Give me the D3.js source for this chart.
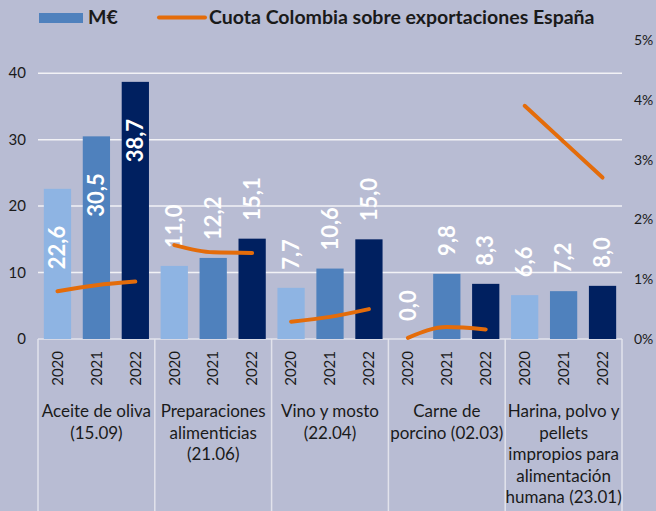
<!DOCTYPE html>
<html>
<head>
<meta charset="utf-8">
<script src="https://cdn.jsdelivr.net/npm/d3@7"></script>
<style>
  html, body { margin: 0; padding: 0; background: #b8bcd3; }
  svg { display: block; font-family: Lato, "Open Sans", sans-serif; }
</style>
</head>
<body>
<div id="chart"></div>
<script>
// Data
const categories = ['Aceite de oliva', 'Preparaciones alimenticias', 'Vino y mosto', 'Carne de porcino', 'Harina'];
const categoryLines = [
  ['Aceite de oliva', '(15.09)'],
  ['Preparaciones', 'alimenticias', '(21.06)'],
  ['Vino y mosto', '(22.04)'],
  ['Carne de', 'porcino (02.03)'],
  ['Harina, polvo y', 'pellets', 'impropios para', 'alimentación', 'humana (23.01)']
];
const years = ['2020', '2021', '2022'];
// M€ per category, one entry per year
const millionsEur = [
  [22.6, 30.5, 38.7],
  [11.0, 12.2, 15.1],
  [7.7, 10.6, 15.0],
  [0.0, 9.8, 8.3],
  [6.6, 7.2, 8.0]
];
// Cuota Colombia sobre exportaciones España (share)
const colombiaShare = [
  [0.0080, 0.0090, 0.0096],
  [0.0157, 0.0145, 0.0144],
  [0.0029, 0.0037, 0.0050],
  [0.0002, 0.0020, 0.0016],
  [0.0390, 0.0330, 0.0270]
];
const leftTicks = [0, 10, 20, 30, 40];
const rightTicks = [0, 0.01, 0.02, 0.03, 0.04, 0.05];

const width = 656;
const height = 511;
const margin = { top: 40, right: 34, bottom: 172, left: 38 };
const plotBottom = height - margin.bottom;

const yearColors = { '2020': '#8eb4e3', '2021': '#4f81bd', '2022': '#002060' };
const orange = '#e46c0a';

const svg = d3.select('#chart')
  .append('svg')
  .attr('width', width)
  .attr('height', height);

svg.append('rect')
  .attr('width', width)
  .attr('height', height)
  .attr('fill', '#b8bcd3');

// Scales
const x0 = d3.scaleBand()
  .domain(categories)
  .range([margin.left, width - margin.right]);

const x1 = d3.scaleBand()
  .domain(years)
  .range([0, x0.bandwidth()])
  .paddingInner(0.3)
  .paddingOuter(0.15);

const yLeft = d3.scaleLinear().domain([0, 45]).range([plotBottom, margin.top]);
const yRight = d3.scaleLinear().domain([0, 0.05]).range([plotBottom, margin.top]);

// Gridlines
svg.append('g')
  .selectAll('line')
  .data(leftTicks.filter(d => d > 0))
  .join('line')
  .attr('x1', margin.left)
  .attr('x2', width - margin.right)
  .attr('y1', d => yLeft(d))
  .attr('y2', d => yLeft(d))
  .attr('stroke', '#f2f2f6')
  .attr('stroke-width', 1.5);

// Left axis labels
svg.append('g')
  .selectAll('text')
  .data(leftTicks)
  .join('text')
  .attr('x', 26)
  .attr('y', d => yLeft(d))
  .attr('dy', '0.35em')
  .attr('text-anchor', 'end')
  .attr('font-size', '15px')
  .attr('fill', '#1a1a1a')
  .text(d => d);

// Right axis labels
svg.append('g')
  .selectAll('text')
  .data(rightTicks)
  .join('text')
  .attr('x', 634)
  .attr('y', d => yRight(d))
  .attr('dy', '0.35em')
  .attr('text-anchor', 'start')
  .attr('font-size', '14px')
  .attr('fill', '#1a1a1a')
  .text(d => d3.format('.0%')(d));

// Category dividers and base line
svg.append('line')
  .attr('x1', margin.left)
  .attr('x2', width - margin.right)
  .attr('y1', plotBottom)
  .attr('y2', plotBottom)
  .attr('stroke', '#e2e3ec')
  .attr('stroke-width', 1.5);

const boundaries = categories.map(c => x0(c)).concat([x0(categories[categories.length - 1]) + x0.bandwidth()]);
svg.append('g')
  .selectAll('line')
  .data(boundaries)
  .join('line')
  .attr('x1', d => d)
  .attr('x2', d => d)
  .attr('y1', plotBottom)
  .attr('y2', height)
  .attr('stroke', '#e2e3ec')
  .attr('stroke-width', 1.5);

// Bars
const groups = svg.append('g')
  .selectAll('g')
  .data(categories)
  .join('g')
  .attr('transform', c => `translate(${x0(c)},0)`);

const barData = (c, i) => years.map((yr, j) => ({ year: yr, value: millionsEur[i][j] }));

groups.selectAll('rect')
  .data(barData)
  .join('rect')
  .attr('x', d => x1(d.year))
  .attr('y', d => yLeft(d.value))
  .attr('width', x1.bandwidth())
  .attr('height', d => plotBottom - yLeft(d.value))
  .attr('fill', d => yearColors[d.year]);

// Share lines (one per category)
const line = d3.line()
  .x(d => d.x)
  .y(d => yRight(d.share))
  .curve(d3.curveMonotoneX);

svg.append('g')
  .selectAll('path')
  .data(categories.map((c, i) => years.map((yr, j) => ({
    x: x0(c) + x1(yr) + x1.bandwidth() / 2,
    share: colombiaShare[i][j]
  }))))
  .join('path')
  .attr('d', line)
  .attr('fill', 'none')
  .attr('stroke', orange)
  .attr('stroke-width', 4)
  .attr('stroke-linecap', 'round');

// Value labels (rotated)
groups.selectAll('text.value')
  .data(barData)
  .join('text')
  .attr('class', 'value')
  .attr('transform', d => {
    const cx = x1(d.year) + x1.bandwidth() / 2;
    const top = yLeft(d.value);
    const y = d.value > 20 ? top + 37 : top - 18;
    return `translate(${cx},${y}) rotate(-90)`;
  })
  .attr('dy', '0.35em')
  .attr('text-anchor', d => d.value > 20 ? 'end' : 'start')
  .attr('font-size', '22px')
  .attr('font-weight', 'bold')
  .attr('fill', '#ffffff')
  .text(d => d3.format('.1f')(d.value).replace('.', ','));

// Year tick labels
groups.selectAll('text.year')
  .data(years)
  .join('text')
  .attr('class', 'year')
  .attr('transform', yr => `translate(${x1(yr) + x1.bandwidth() / 2},${plotBottom + 12}) rotate(-90)`)
  .attr('dy', '0.35em')
  .attr('text-anchor', 'end')
  .attr('font-size', '15px')
  .attr('fill', '#1a1a1a')
  .text(yr => yr);

// Category labels
groups.append('text')
  .attr('x', x0.bandwidth() / 2)
  .attr('y', 417)
  .attr('text-anchor', 'middle')
  .attr('font-size', '17px')
  .attr('fill', '#1a1a1a')
  .selectAll('tspan')
  .data((c, i) => categoryLines[i])
  .join('tspan')
  .attr('x', x0.bandwidth() / 2)
  .attr('dy', (d, k) => k === 0 ? 0 : 21.5)
  .text(d => d);

// Legend
const legend = svg.append('g');
legend.append('rect')
  .attr('x', 39)
  .attr('y', 13)
  .attr('width', 44)
  .attr('height', 10)
  .attr('fill', yearColors['2021']);
legend.append('text')
  .attr('x', 88)
  .attr('y', 24)
  .attr('font-size', '19.5px')
  .attr('font-weight', 'bold')
  .attr('fill', '#1a1a1a')
  .text('M€');
legend.append('line')
  .attr('x1', 159)
  .attr('x2', 205)
  .attr('y1', 17.5)
  .attr('y2', 17.5)
  .attr('stroke', orange)
  .attr('stroke-width', 4)
  .attr('stroke-linecap', 'round');
legend.append('text')
  .attr('x', 209)
  .attr('y', 24)
  .attr('font-size', '19.5px')
  .attr('font-weight', 'bold')
  .attr('fill', '#1a1a1a')
  .text('Cuota Colombia sobre exportaciones España');
</script>
</body>
</html>
